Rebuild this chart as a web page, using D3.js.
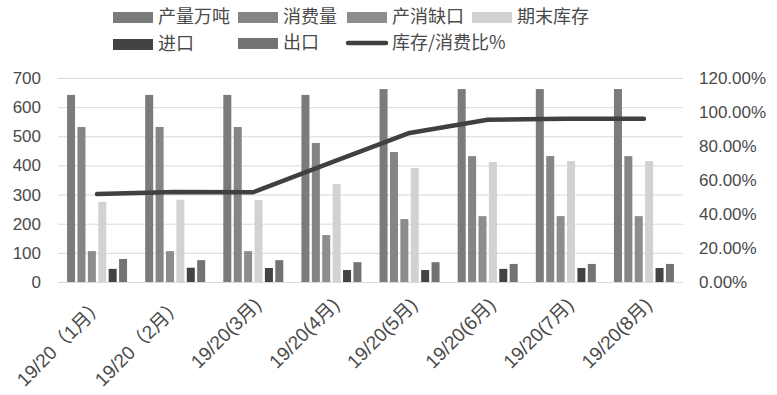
<!DOCTYPE html>
<html>
<head>
<meta charset="utf-8">
<script src="https://cdn.jsdelivr.net/npm/d3@7"></script>
<style>
  body { margin: 0; background: #fff; }
  svg { display: block; }
</style>
</head>
<body>
<div id="chart"></div>
<script>
// data
const categories = ['19/20（1月）', '19/20（2月）', '19/20(3月)', '19/20(4月)', '19/20(5月)', '19/20(6月)', '19/20(7月)', '19/20(8月)'];
const production = [642, 642, 642, 642, 662, 662, 662, 662];
const consumption = [532, 532, 532, 477, 446, 432, 432, 432];
const gap = [106, 106, 106, 161, 216, 226, 226, 226];
const endStock = [275, 282, 281, 336, 391, 412, 415, 415];
const imports = [45, 49, 48, 41, 41, 45, 48, 48];
const exports_ = [79, 75, 75, 68, 68, 62, 62, 62];
const ratio = [51.7, 53.0, 52.8, 70.4, 87.7, 95.4, 96.1, 96.1];
const leftTicks = [0, 100, 200, 300, 400, 500, 600, 700];
const rightTicks = [0, 20, 40, 60, 80, 100, 120];

const barSeries = [
  { name: '产量万吨', values: production, color: '#7b7b7b' },
  { name: '消费量', values: consumption, color: '#858585' },
  { name: '产消缺口', values: gap, color: '#8d8d8d' },
  { name: '期末库存', values: endStock, color: '#d2d2d2' },
  { name: '进口', values: imports, color: '#434343' },
  { name: '出口', values: exports_, color: '#737373' }
];

const W = 777, H = 395;
const plot = { left: 58, right: 683, top: 78, bottom: 282 };
const textColor = '#4a4a4a';
const numFont = '"Liberation Sans", Arial, sans-serif';
const cjkFont = '"Noto Sans CJK SC", "Noto Sans", sans-serif';
const labelFont = '"Liberation Sans", "Noto Sans CJK SC", sans-serif';

const svg = d3.select('#chart').append('svg')
  .attr('width', W)
  .attr('height', H);

// Scales
const x = d3.scaleBand().domain(categories).range([plot.left, plot.right]).padding(0);
const inner = d3.scaleBand().domain(d3.range(6)).range([0, 60]).paddingInner(0.23).paddingOuter(0);
const y = d3.scaleLinear().domain([0, 700]).range([plot.bottom, plot.top]);
const y2 = d3.scaleLinear().domain([0, 120]).range([plot.bottom, plot.top]);

// Gridlines
svg.append('g')
  .selectAll('line')
  .data(leftTicks)
  .enter()
  .append('line')
  .attr('x1', plot.left)
  .attr('x2', plot.right)
  .attr('y1', d => y(d) + 0.5)
  .attr('y2', d => y(d) + 0.5)
  .attr('stroke', '#d9d9d9')
  .attr('stroke-width', 1);

// Left axis labels
svg.append('g')
  .selectAll('text')
  .data(leftTicks)
  .enter()
  .append('text')
  .attr('x', 41)
  .attr('y', d => y(d) + 6)
  .attr('text-anchor', 'end')
  .style('font-family', numFont)
  .style('font-size', '17px')
  .style('fill', textColor)
  .text(d => d);

// Right axis labels
svg.append('g')
  .selectAll('text')
  .data(rightTicks)
  .enter()
  .append('text')
  .attr('x', 699)
  .attr('y', d => y2(d) + 6)
  .attr('text-anchor', 'start')
  .style('font-family', numFont)
  .style('font-size', '17px')
  .style('fill', textColor)
  .text(d => d.toFixed(2) + '%');

// Bars
const groups = svg.append('g')
  .selectAll('g')
  .data(categories)
  .enter()
  .append('g')
  .attr('transform', c => `translate(${x(c) + x.bandwidth() / 2 - 30},0)`);

groups.selectAll('rect')
  .data((c, i) => barSeries.map((s, j) => ({ j, v: s.values[i], color: s.color })))
  .enter()
  .append('rect')
  .attr('x', d => inner(d.j))
  .attr('width', inner.bandwidth())
  .attr('y', d => y(d.v))
  .attr('height', d => plot.bottom - y(d.v))
  .attr('fill', d => d.color);

// Ratio line
const line = d3.line()
  .x((d, i) => x(categories[i]) + x.bandwidth() / 2)
  .y(d => y2(d));

svg.append('path')
  .datum(ratio)
  .attr('d', line)
  .attr('fill', 'none')
  .attr('stroke', '#404040')
  .attr('stroke-width', 4.5)
  .attr('stroke-linejoin', 'round')
  .attr('stroke-linecap', 'round');

// X axis labels
svg.append('g')
  .selectAll('text')
  .data(categories)
  .enter()
  .append('text')
  .attr('transform', c => `translate(${x(c) + x.bandwidth() / 2 + 9},${306}) rotate(-45)`)
  .attr('text-anchor', 'end')
  .style('font-family', labelFont)
  .style('font-size', '19px')
  .style('fill', textColor)
  .text(d => d);

// Legend
const legendItems = [
  { name: '产量万吨', color: barSeries[0].color, x: 113, y: 12, type: 'rect' },
  { name: '消费量', color: barSeries[1].color, x: 238, y: 12, type: 'rect' },
  { name: '产消缺口', color: barSeries[2].color, x: 347, y: 12, type: 'rect' },
  { name: '期末库存', color: barSeries[3].color, x: 472, y: 12, type: 'rect' },
  { name: '进口', color: barSeries[4].color, x: 113, y: 39, type: 'rect' },
  { name: '出口', color: barSeries[5].color, x: 238, y: 38, type: 'rect' },
  { name: '库存/消费比%', color: '#404040', x: 347, y: 38, type: 'line' }
];

const legend = svg.append('g');
legendItems.forEach(d => {
  if (d.type === 'rect') {
    legend.append('rect')
      .attr('x', d.x)
      .attr('y', d.y)
      .attr('width', 40)
      .attr('height', 11)
      .attr('fill', d.color);
  } else {
    legend.append('line')
      .attr('x1', d.x + 1)
      .attr('x2', d.x + 39)
      .attr('y1', d.y + 5)
      .attr('y2', d.y + 5)
      .attr('stroke', d.color)
      .attr('stroke-width', 4.5)
      .attr('stroke-linecap', 'round');
  }
  legend.append('text')
    .attr('x', d.x + 45)
    .attr('y', d.y + 11)
    .style('font-family', cjkFont)
    .style('font-size', '18px')
    .style('fill', textColor)
    .text(d.name);
});
</script>
</body>
</html>
